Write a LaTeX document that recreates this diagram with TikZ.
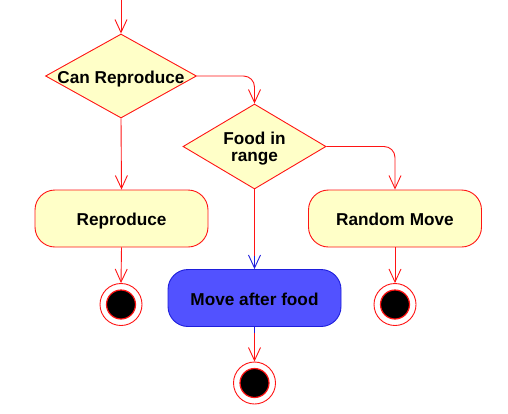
\documentclass[tikz,border=0pt]{standalone}
\usepackage{fontspec}
\setmainfont{Liberation Sans}
\usetikzlibrary{shapes.geometric,arrows.meta}
\definecolor{lnred}{RGB}{255,20,20}
\definecolor{pale}{RGB}{255,255,200}
\definecolor{bfill}{RGB}{82,82,255}
\definecolor{bline}{RGB}{30,30,220}
\tikzset{
  every node/.style={font=\fontsize{17.2}{17}\selectfont\bfseries},
  oneline/.style={text height=14.3pt,text depth=0pt},
  decision/.style={shape=diamond,draw=lnred,fill=pale,line width=0.9pt,minimum width=151pt,minimum height=84pt,inner sep=0pt},
  act/.style={shape=rectangle,rounded corners=20pt,draw=lnred,fill=pale,line width=0.9pt,minimum width=173pt,minimum height=57pt,oneline},
  actb/.style={act,draw=bline,fill=bfill},
  endst/.style={shape=circle,draw=lnred,fill=white,line width=0.9pt,minimum size=42pt,inner sep=0pt,
    path picture={\fill[black,draw=lnred,line width=1.2pt] (path picture bounding box.center) circle (14.5pt);}},
  flow/.style={draw=lnred,line width=0.9pt,-{Straight Barb[length=13pt,width=12pt]},rounded corners=11pt},
  flowb/.style={flow,draw=bline},
  plain/.style={draw=lnred,line width=0.9pt},
  plainb/.style={draw=bline,line width=0.9pt}
}
\begin{document}
\begin{tikzpicture}[x=1pt,y=-1pt]
\useasboundingbox (0,0) rectangle (508,413);
\coordinate (start) at (121,0);
\node[decision,label={[oneline]center:Can Reproduce}] (d1) at (121,76) {};
\node[decision,minimum width=143pt,minimum height=85pt,label={[align=center,yshift=-2.5pt]center:Food in\\range}] (d2) at (254.5,146.5) {};
\node[act] (rep) at (121.5,218.5) {Reproduce};
\node[act] (rm) at (395,218.5) {Random Move};
\node[actb] (mv) at (254.5,298) {Move after food};
\node[endst] (e1) at (121,304.5) {};
\node[endst] (e2) at (395,304.5) {};
\node[endst] (e3) at (254.5,383) {};
\coordinate (m1) at (254.5,256);
\coordinate (m2) at (254.5,333);
\draw[flow] (start) -- (d1.north);
\draw[flow] (d1.east) -| (d2.north);
\draw[flow] (d1.south) -- (rep.north);
\draw[flow] (d2.east) -| (rm.north);
\draw[plain] (d2.south) -- (m1);
\draw[flowb] (m1) -- (mv.north);
\draw[plainb] (mv.south) -- (m2);
\draw[flow] (m2) -- (e3.north);
\draw[flow] (rep.south) -- (e1.north);
\draw[flow] (rm.south) -- (e2.north);
\end{tikzpicture}
\end{document}
